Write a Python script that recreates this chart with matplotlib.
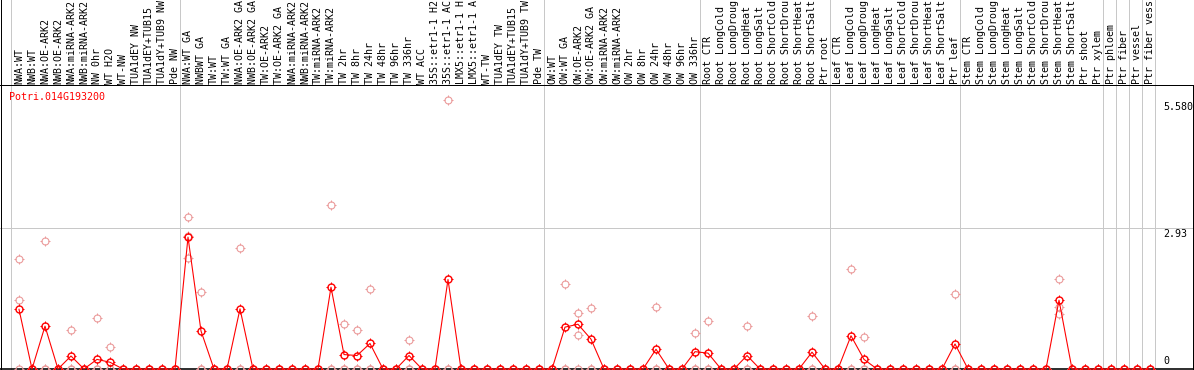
import matplotlib
matplotlib.use("Agg")
import matplotlib.pyplot as plt
from matplotlib.path import Path

# ---------------- data ----------------
gene = "Potri.014G193200"

labels = [
    # NW group
    "NWA:WT", "NWB:WT", "NWA:OE-ARK2", "NWB:OE-ARK2", "NWA:miRNA-ARK2", "NWB:miRNA-ARK2",
    "NW 0hr", "WT H2O", "WT-NW", "TUA1dEY NW", "TUA1dEY+TUB15 NW", "TUA1dY+TUB9 NW", "Pde NW",
    # GA / TW group
    "NWA:WT GA", "NWBWT GA", "TW:WT", "TW:WT GA", "NWA:OE-ARK2 GA", "NWB:OE-ARK2 GA",
    "TW:OE-ARK2", "TW:OE-ARK2 GA", "NWA:miRNA-ARK2", "NWB:miRNA-ARK2", "TW:miRNA-ARK2",
    "TW:miRNA-ARK2", "TW 2hr", "TW 8hr", "TW 24hr", "TW 48hr", "TW 96hr", "TW 336hr", "WT ACC",
    "35S::etr1-1 H2O", "35S::etr1-1 ACC", "LMX5::etr1-1 H2O", "LMX5::etr1-1 ACC", "WT-TW",
    "TUA1dEY TW", "TUA1dEY+TUB15 TW", "TUA1dY+TUB9 TW", "Pde TW",
    # OW group
    "OW:WT", "OW:WT GA", "OW:OE-ARK2", "OW:OE-ARK2 GA", "OW:miRNA-ARK2", "OW:miRNA-ARK2",
    "OW 2hr", "OW 8hr", "OW 24hr", "OW 48hr", "OW 96hr", "OW 336hr",
    # Root
    "Root CTR", "Root LongCold", "Root LongDrought", "Root LongHeat", "Root LongSalt",
    "Root ShortCold", "Root ShortDrought", "Root ShortHeat", "Root ShortSalt", "Ptr root",
    # Leaf
    "Leaf CTR", "Leaf LongCold", "Leaf LongDrought", "Leaf LongHeat", "Leaf LongSalt",
    "Leaf ShortCold", "Leaf ShortDrought", "Leaf ShortHeat", "Leaf ShortSalt", "Ptr leaf",
    # Stem + tissues
    "Stem CTR", "Stem LongCold", "Stem LongDrought", "Stem LongHeat", "Stem LongSalt",
    "Stem ShortCold", "Stem ShortDrought", "Stem ShortHeat", "Stem ShortSalt", "Ptr shoot",
    "Ptr xylem", "Ptr phloem", "Ptr fiber", "Ptr vessel", "Ptr fiber vessel",
]
max_label_chars = 14  # header column shows at most this many characters

mean_expr = [
    1.24, 0, 0.89, 0, 0.27, 0, 0.20, 0.14, 0, 0, 0, 0, 0,
    2.74, 0.79, 0, 0, 1.25, 0, 0, 0, 0, 0, 0, 1.70, 0.30, 0.28, 0.53, 0, 0, 0.28, 0, 0, 1.86,
    0, 0, 0, 0, 0, 0, 0,
    0, 0.87, 0.93, 0.62, 0, 0, 0, 0, 0.41, 0, 0, 0.36,
    0.33, 0, 0, 0.28, 0, 0, 0, 0, 0.35, 0,
    0, 0.69, 0.20, 0, 0, 0, 0, 0, 0, 0.52,
    0, 0, 0, 0, 0, 0, 0, 1.43, 0, 0, 0, 0, 0, 0, 0,
]

rep1 = [
    2.29, 0, 2.67, 0, 0.81, 0, 1.07, 0.46, 0, 0, 0, 0, 0,
    3.15, 1.59, 0, 0, 2.51, 0, 0, 0, 0, 0, 0, 3.40, 0.93, 0.82, 1.66, 0, 0, 0.60, 0, 0, 5.58,
    0, 0, 0, 0, 0, 0, 0,
    0, 1.76, 1.16, 1.26, 0, 0, 0, 0, 1.28, 0, 0, 0.74,
    0.99, 0, 0, 0.89, 0, 0, 0, 0, 1.10, 0,
    0, 2.07, 0.67, 0, 0, 0, 0, 0, 0, 1.55,
    0, 0, 0, 0, 0, 0, 0, 1.88, 0, 0, 0, 0, 0, 0, 0,
]
rep2 = [
    1.43, 0, 0, 0, 0, 0, 0, 0, 0, 0, 0, 0, 0,
    2.31, 0, 0, 0, 0, 0, 0, 0, 0, 0, 0, 0, 0, 0, 0, 0, 0, 0, 0, 0, 0,
    0, 0, 0, 0, 0, 0, 0,
    0, 0, 0.71, 0, 0, 0, 0, 0, 0, 0, 0, 0,
    0, 0, 0, 0, 0, 0, 0, 0, 0, 0,
    0, 0, 0, 0, 0, 0, 0, 0, 0, 0,
    0, 0, 0, 0, 0, 0, 0, 1.28, 0, 0, 0, 0, 0, 0, 0,
]
rep3 = [
    0, 0, 0, 0, 0, 0, 0, 0, 0, 0, 0, 0, 0,
    2.76, 0, 0, 0, 0, 0, 0, 0, 0, 0, 0, 0, 0, 0, 0, 0, 0, 0, 0, 0, 0,
    0, 0, 0, 0, 0, 0, 0,
    0, 0, 0, 0, 0, 0, 0, 0, 0, 0, 0, 0,
    0, 0, 0, 0, 0, 0, 0, 0, 0, 0,
    0, 0, 0, 0, 0, 0, 0, 0, 0, 0,
    0, 0, 0, 0, 0, 0, 0, 1.14, 0, 0, 0, 0, 0, 0, 0,
]

# last index of each group (separators drawn after these)
group_ends = [-1, 12, 40, 52, 62, 72, 83, 84, 85, 86, 87]
y_max = 5.58
y_mid = 2.93

# ---------------- layout ----------------
W, H, DPI = 1194, 370, 100
X0, DX = 19, 13            # pixel x of first sample, spacing
Y0, PPU = 369, 141 / 2.93  # pixel y of zero, pixels per unit


def px(xp):
    return (xp - X0) / DX


def py(yp):
    return (Y0 - yp) / PPU


fig = plt.figure(figsize=(W / DPI, H / DPI), dpi=DPI)
ax = fig.add_axes([0, 0, 1, 1])
ax.set_axis_off()
ax.set_xlim(px(0), px(W))
ax.set_ylim(py(H), py(0))

LW = 72 / DPI  # one pixel in points
red = "#ff0000"
pale = "#eb9a9a"
grid = "#c8c8c8"
mono = "DejaVu Sans Mono"
fs = 7.2

idx = list(range(len(labels)))

# grid lines
for g in group_ends:
    ax.axvline(g + 0.36, color=grid, lw=LW, zorder=1)
ax.plot([px(0), px(1193)], [y_mid, y_mid], color=grid, lw=LW, zorder=1)

# frame lines
ax.plot([px(0), px(W)], [py(85), py(85)], color="black", lw=LW, zorder=2)
ax.plot([px(0), px(W)], [0, 0], color="black", lw=1.6 * LW, zorder=2)
ax.plot([px(1), px(1)], [py(0), py(H)], color="black", lw=LW, zorder=2)
ax.plot([px(1193), px(1193)], [py(85), py(H)], color="black", lw=LW, zorder=2)

# marker with small ticks at N/E/S/W
tick_path = Path(
    [(0, 0.6), (0, 1), (0, -0.6), (0, -1), (0.6, 0), (1, 0), (-0.6, 0), (-1, 0)],
    [Path.MOVETO, Path.LINETO] * 4,
)
circ_ms = 7 * LW
tick_ms = 9.6 * LW


def draw_points(xs, ys, color, z, mew):
    ax.plot(xs, ys, ls="none", marker="o", ms=circ_ms, mfc="none", mec=color,
            mew=mew, zorder=z, clip_on=False)
    ax.plot(xs, ys, ls="none", marker=tick_path, ms=tick_ms, mfc="none", mec=color,
            mew=LW, zorder=z, clip_on=False)


for rep in (rep1, rep2, rep3):
    draw_points(idx, rep, pale, 3, 1.1 * LW)

ax.plot(idx, mean_expr, color=red, lw=1.1 * LW, zorder=4)
draw_points(idx, mean_expr, red, 5, 1.4 * LW)

# header labels (truncated like the narrow header columns)
for i, lab in enumerate(labels):
    ax.text(i, py(84), lab[:max_label_chars].rstrip(), rotation=90, ha="center", va="bottom",
            fontsize=fs, family=mono, color="black")

# gene name
ax.text(px(9), py(97.5), gene, ha="left", va="center", fontsize=fs, family=mono, color=red)

# right value labels
ax.text(px(1163), py(102), f"{y_max:.3f}", ha="left", va="top", fontsize=fs, family=mono)
ax.text(px(1163), py(229), f"{y_mid:.2f}", ha="left", va="top", fontsize=fs, family=mono)
ax.text(px(1163), py(366), "0", ha="left", va="bottom", fontsize=fs, family=mono)

fig.savefig("out.png", dpi=DPI)
